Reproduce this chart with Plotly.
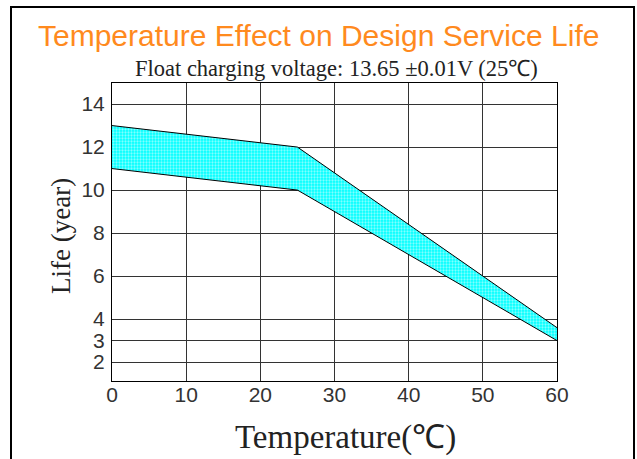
import plotly.graph_objects as go

# ---- data ----
temperature = [0, 25, 60]
life_upper = [13.0, 12.0, 3.6]
life_lower = [11.0, 10.0, 3.0]

x_ticks = [0, 10, 20, 30, 40, 50, 60]
x_tick_labels = ["0", "10", "20", "30", "40", "50", "60"]
y_ticks = [2, 3, 4, 6, 8, 10, 12, 14]
y_tick_labels = ["2", "3", "4", "6", "8", "10", "12", "14"]

title_text = "Temperature Effect on Design Service Life"
subtitle_text = "Float charging voltage: 13.65 ±0.01V (25℃)"
x_title = "Temperature(℃)"
y_title = "Life (year)"

SANS = "Liberation Sans, Arial, sans-serif"
SERIF = "Liberation Serif, Times New Roman, serif"

W, H = 637, 459
ML, MR, MT, MB = 112, 80, 83, 78
PW, PH = W - ML - MR, H - MT - MB


def px_to_paper_x(px):
    return (px - ML) / PW


def px_to_paper_y(py):
    return (H - MB - py) / PH


fig = go.Figure()
fig.add_trace(go.Scatter(
    x=temperature, y=life_lower, mode="lines",
    line=dict(color="black", width=1), showlegend=False, hoverinfo="skip",
))
fig.add_trace(go.Scatter(
    x=temperature, y=life_upper, mode="lines",
    line=dict(color="black", width=1), fill="tonexty",
    fillcolor="#00FFFF",
    fillpattern=dict(shape=".", bgcolor="#00FFFF", fgcolor="white",
                     size=3, solidity=0.45),
    showlegend=False, hoverinfo="skip",
))

fig.update_layout(
    width=W, height=H,
    margin=dict(l=ML, r=MR, t=MT, b=MB),
    paper_bgcolor="white", plot_bgcolor="white",
    font=dict(family=SERIF, color="#222"),
    showlegend=False,
    xaxis=dict(
        range=[0, 60], tickvals=x_ticks, ticktext=x_tick_labels,
        showgrid=True, gridcolor="#333", gridwidth=1,
        showline=True, linecolor="black", linewidth=1, mirror=True,
        zeroline=False, ticks="", ticklabelstandoff=-5,
        tickfont=dict(size=21, color="#333", family=SANS),
    ),
    yaxis=dict(
        range=[1.12, 14.98], tickvals=y_ticks, ticktext=y_tick_labels,
        showgrid=True, gridcolor="#333", gridwidth=1,
        showline=True, linecolor="black", linewidth=1, mirror=True,
        zeroline=False, ticks="", ticklabelstandoff=2,
        tickfont=dict(size=21, color="#333", family=SANS),
    ),
    annotations=[
        dict(text=title_text, xref="paper", yref="paper",
             x=px_to_paper_x(318), y=px_to_paper_y(35),
             xanchor="center", yanchor="middle", showarrow=False,
             font=dict(size=30, color="#FF8A1E", family=SANS)),
        dict(text=subtitle_text, xref="paper", yref="paper",
             x=px_to_paper_x(336), y=px_to_paper_y(69),
             xanchor="center", yanchor="middle", showarrow=False,
             font=dict(size=22.5, color="#222", family=SERIF)),
        dict(text=x_title, xref="paper", yref="paper",
             x=px_to_paper_x(345), y=px_to_paper_y(437),
             xanchor="center", yanchor="middle", showarrow=False,
             font=dict(size=33, color="#222", family=SERIF)),
        dict(text=y_title, xref="paper", yref="paper",
             x=px_to_paper_x(61), y=px_to_paper_y(236),
             xanchor="center", yanchor="middle", showarrow=False,
             textangle=-90,
             font=dict(size=27, color="#222", family=SERIF)),
    ],
    shapes=[
        dict(type="rect", xref="paper", yref="paper", layer="above",
             x0=px_to_paper_x(11), x1=px_to_paper_x(634),
             y0=px_to_paper_y(470), y1=px_to_paper_y(7),
             line=dict(color="black", width=2), fillcolor="rgba(0,0,0,0)"),
    ],
)

fig.write_html("out.html", config={"displayModeBar": False},
               post_script="document.body.style.margin='0px';")
